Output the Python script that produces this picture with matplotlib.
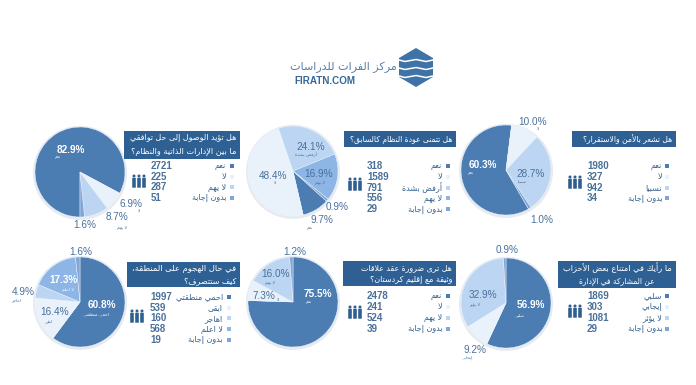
import matplotlib
matplotlib.use("Agg")
import matplotlib.pyplot as plt
from matplotlib.patches import Rectangle, Polygon, Circle, FancyBboxPatch

W, H = 696, 385

# ---- arabic shaping, matplotlib does not join or reverse by itself
# letter: isolated, final, initial, medial
FORMS = {
    "ء": (0xFE80,) * 4, "آ": (0xFE81, 0xFE82, 0, 0), "أ": (0xFE83, 0xFE84, 0, 0),
    "ؤ": (0xFE85, 0xFE86, 0, 0), "إ": (0xFE87, 0xFE88, 0, 0),
    "ئ": (0xFE89, 0xFE8A, 0xFE8B, 0xFE8C), "ا": (0xFE8D, 0xFE8E, 0, 0),
    "ب": (0xFE8F, 0xFE90, 0xFE91, 0xFE92), "ة": (0xFE93, 0xFE94, 0, 0),
    "ت": (0xFE95, 0xFE96, 0xFE97, 0xFE98), "ث": (0xFE99, 0xFE9A, 0xFE9B, 0xFE9C),
    "ج": (0xFE9D, 0xFE9E, 0xFE9F, 0xFEA0), "ح": (0xFEA1, 0xFEA2, 0xFEA3, 0xFEA4),
    "خ": (0xFEA5, 0xFEA6, 0xFEA7, 0xFEA8), "د": (0xFEA9, 0xFEAA, 0, 0),
    "ذ": (0xFEAB, 0xFEAC, 0, 0), "ر": (0xFEAD, 0xFEAE, 0, 0), "ز": (0xFEAF, 0xFEB0, 0, 0),
    "س": (0xFEB1, 0xFEB2, 0xFEB3, 0xFEB4), "ش": (0xFEB5, 0xFEB6, 0xFEB7, 0xFEB8),
    "ص": (0xFEB9, 0xFEBA, 0xFEBB, 0xFEBC), "ض": (0xFEBD, 0xFEBE, 0xFEBF, 0xFEC0),
    "ط": (0xFEC1, 0xFEC2, 0xFEC3, 0xFEC4), "ظ": (0xFEC5, 0xFEC6, 0xFEC7, 0xFEC8),
    "ع": (0xFEC9, 0xFECA, 0xFECB, 0xFECC), "غ": (0xFECD, 0xFECE, 0xFECF, 0xFED0),
    "ف": (0xFED1, 0xFED2, 0xFED3, 0xFED4), "ق": (0xFED5, 0xFED6, 0xFED7, 0xFED8),
    "ك": (0xFED9, 0xFEDA, 0xFEDB, 0xFEDC), "ل": (0xFEDD, 0xFEDE, 0xFEDF, 0xFEE0),
    "م": (0xFEE1, 0xFEE2, 0xFEE3, 0xFEE4), "ن": (0xFEE5, 0xFEE6, 0xFEE7, 0xFEE8),
    "ه": (0xFEE9, 0xFEEA, 0xFEEB, 0xFEEC), "و": (0xFEED, 0xFEEE, 0, 0),
    "ى": (0xFEEF, 0xFEF0, 0, 0), "ي": (0xFEF1, 0xFEF2, 0xFEF3, 0xFEF4),
}
LAM_ALEF = {"آ": (0xFEF5, 0xFEF6), "أ": (0xFEF7, 0xFEF8), "إ": (0xFEF9, 0xFEFA), "ا": (0xFEFB, 0xFEFC)}


def shape(text):
    out = []
    i = 0
    prev_joins = False
    while i < len(text):
        c = text[i]
        if c not in FORMS:
            out.append(c)
            prev_joins = False
            i += 1
            continue
        if c == "ل" and i + 1 < len(text) and text[i + 1] in LAM_ALEF:
            out.append(chr(LAM_ALEF[text[i + 1]][1 if prev_joins else 0]))
            prev_joins = False
            i += 2
            continue
        f = FORMS[c]
        next_ok = i + 1 < len(text) and text[i + 1] in FORMS
        joins_next = f[2] != 0 and c != "ء" and next_ok
        if prev_joins and joins_next:
            g = f[3]
        elif prev_joins:
            g = f[1]
        elif joins_next:
            g = f[2]
        else:
            g = f[0]
        out.append(chr(g))
        prev_joins = joins_next
        i += 1
    return "".join(reversed(out))


# ---- data
titles = [
    ["هل تؤيد الوصول إلى حل توافقي", "ما بين الإدارات الذاتية والنظام؟"],
    ["هل تتمنى عودة النظام كالسابق؟"],
    ["هل تشعر بالأمن والاستقرار؟"],
    ["في حال الهجوم على المنطقة،", "كيف ستتصرف؟"],
    ["هل ترى ضرورة عقد علاقات", "وثيقة مع إقليم كردستان؟"],
    ["ما رأيك في امتناع بعض الأحزاب", "عن المشاركة في الإدارة"],
]
answers = [
    ["نعم", "لا", "لا يهم", "بدون إجابة"],
    ["نعم", "لا", "أرفض بشدة", "لا يهم", "بدون إجابة"],
    ["نعم", "لا", "نسبيا", "بدون إجابة"],
    ["احمي منطقتي", "ابقى", "اهاجر", "لا اعلم", "بدون إجابة"],
    ["نعم", "لا", "لا يهم", "بدون إجابة"],
    ["سلبي", "إيجابي", "لا يؤثر", "بدون إجابة"],
]
counts = [
    [2721, 225, 287, 51],
    [318, 1589, 791, 556, 29],
    [1980, 327, 942, 34],
    [1997, 539, 160, 568, 19],
    [2478, 241, 524, 39],
    [1869, 303, 1081, 29],
]
percents = [
    [82.9, 6.9, 8.7, 1.6],
    [9.7, 48.4, 24.1, 16.9, 0.9],
    [60.3, 10.0, 28.7, 1.0],
    [60.8, 16.4, 4.9, 17.3, 1.6],
    [75.5, 7.3, 16.0, 1.2],
    [56.9, 9.2, 32.9, 0.9],
]

DARK = "#4b7db3"
PALE = "#e9f1fb"
LIGHT = "#bcd5f3"
MID = "#8db6e6"
NOANS = "#7fa6d6"
BAND = "#2f6094"
TXT = "#4a7099"

colors4 = [DARK, PALE, LIGHT, NOANS]
colors5 = [DARK, PALE, LIGHT, MID, NOANS]

# pie layout in pixels: center x, center y, radius, start angle
pies = [(80, 172, 45, -90), (293, 171, 45, -42), (506, 170, 45, -60),
        (80, 302, 45, 90), (293, 302, 45, 90), (506, 303, 45, 90)]
# band: x0, x1, y0, y1
bands = [(124, 240, 131, 159), (344, 456, 131, 147), (572, 676, 131, 147),
         (127, 240, 262, 287), (343, 456, 261, 286), (558, 676, 261, 288)]
# width in pixels of each title line
title_widths = [[108, 105], [103], [90], [104, 53], [92, 83], [108, 76]]
# legend: count x, label right x, marker x, first row y, row step, icon x, icon y
legends = [(151, 226, 232, 166, 10.6, 139, 181), (367, 442, 448, 166, 10.8, 355, 184),
           (587, 662, 667, 166, 10.8, 575, 182), (150, 223, 229, 297, 10.7, 137, 316),
           (367, 442, 448, 296, 10.9, 355, 312), (587, 662, 667, 296, 10.9, 575, 311)]
# index of the percentages printed in white
white_labels = [[0], [], [0], [0, 3], [0], [0]]
# where each percent goes: x, y per slice
pct_pos = [
    [(71, 150), (131, 204), (117, 217), (85, 225)],
    [(322, 220), (273, 176), (311, 147), (319, 174), (337, 207)],
    [(483, 165), (533, 122), (531, 174), (542, 220)],
    [(102, 305), (55, 312), (23, 292), (63, 280), (81, 252)],
    [(318, 294), (264, 296), (276, 274), (295, 252)],
    [(531, 305), (475, 350), (483, 295), (507, 250)],
]
sub_pos = [
    [(58, 157), (139, 211), (122, 227), None],
    [(310, 228), (275, 183), (306, 155), (320, 182), None],
    [(471, 173), (538, 129), (522, 181), None],
    [(96, 314), (49, 321), (16, 300), (68, 289), None],
    [(309, 302), (278, 300), (270, 282), None],
    [(520, 315), (467, 358), (475, 304), None],
]

fig = plt.figure(figsize=(W / 100, H / 100), dpi=100, facecolor="white")
renderer = fig.canvas.get_renderer()

# pies go first, the overlay with all the text goes over them
for i, (cx, cy, r, start) in enumerate(pies):
    s = r * 1.1
    ax = fig.add_axes([(cx - s) / W, 1 - (cy + s) / H, 2 * s / W, 2 * s / H])
    ax.add_patch(Circle((0.0, -0.02), 1.03, color="#e6ebf2", zorder=0))
    cols = colors5 if len(percents[i]) == 5 else colors4
    ax.pie(percents[i], colors=cols, startangle=start, counterclock=False, radius=1,
           wedgeprops={"edgecolor": "#f4f8fd", "linewidth": 0.3})
    ax.set_xlim(-1.1, 1.1)
    ax.set_ylim(-1.1, 1.1)

top = fig.add_axes([0, 0, 1, 1])
top.set_xlim(0, W)
top.set_ylim(H, 0)
top.axis("off")
top.patch.set_alpha(0)


def people(x, y):
    # three little figures
    for dx in (-5, 0, 5):
        top.add_patch(Circle((x + dx, y - 5), 1.5, color="#2f5f8f", lw=0))
        top.add_patch(FancyBboxPatch((x + dx - 1.6, y - 3), 3.2, 9.5, boxstyle="round,pad=0.2",
                                     color="#2f5f8f", lw=0))


for i in range(6):
    x0, x1, y0, y1 = bands[i]
    top.add_patch(Rectangle((x0, y0), x1 - x0, y1 - y0, color=BAND, lw=0))
    lines = titles[i]
    step = (y1 - y0) / len(lines)
    for j, line in enumerate(lines):
        if i == 5:
            tx, ha = (x0 + x1) / 2, "center"
        else:
            tx, ha = x1 - 4, "right"
        t = top.text(tx, y0 + step * (j + 0.5), shape(line), color="white", fontsize=6,
                     family="DejaVu Sans", ha=ha, va="center")
        # squeeze the line to the width it has in the picture
        w = t.get_window_extent(renderer).width
        t.set_fontsize(6 * title_widths[i][j] / w)

    cx_count, lx, mx, ry, step, ix, iy = legends[i]
    cols = colors5 if len(percents[i]) == 5 else colors4
    for j, name in enumerate(answers[i]):
        y = ry + j * step
        top.text(cx_count, y, str(counts[i][j]), color=TXT, fontsize=7, fontweight="bold",
                 family="Liberation Sans", ha="left", va="center")
        top.text(lx, y, shape(name), color="#35628f", fontsize=5.8, family="DejaVu Sans",
                 ha="right", va="center")
        top.add_patch(Rectangle((mx - 2, y - 2), 4, 4, color=cols[j], lw=0))
    people(ix, iy)

    for j, p in enumerate(percents[i]):
        col = "white" if j in white_labels[i] else TXT
        px, py = pct_pos[i][j]
        top.text(px, py, f"{p:.1f}%", color=col, fontsize=7.2, family="Liberation Sans",
                 fontweight="bold" if col == "white" else "normal", ha="center", va="center")
        if sub_pos[i][j] is not None:
            sx, sy = sub_pos[i][j]
            top.text(sx, sy, shape(answers[i][j]), color=col, fontsize=3.2, family="DejaVu Sans",
                     ha="center", va="center")

# logo
top.add_patch(Polygon([(416, 48), (433, 58), (433, 77), (416, 87), (399, 77), (399, 58)],
                      closed=True, color="#3f73a8", lw=0))
for yy in (60, 68, 76):
    top.plot([399, 405, 416, 426, 433], [yy, yy + 1.5, yy - 0.5, yy + 1.5, yy], color="white", lw=1.1)
top.text(397, 67, shape("مركز الفرات للدراسات"), color="#5a7ea6", fontsize=8,
         family="DejaVu Sans", ha="right", va="center")
top.text(294, 80.5, "FIRATN.COM", color="#33689b", fontsize=7.1, fontweight="bold",
         family="Liberation Sans", ha="left", va="center")

fig.savefig("out.png", dpi=100)
